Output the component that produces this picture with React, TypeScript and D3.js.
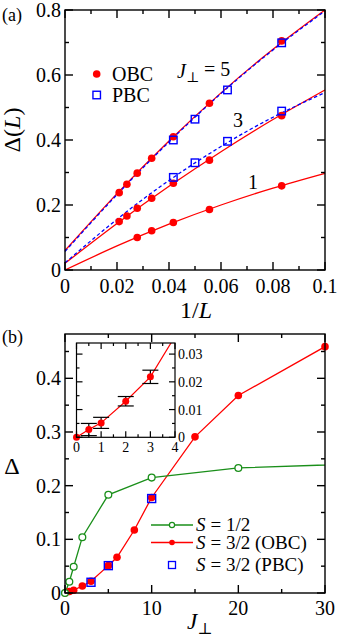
import React from 'react';
import * as d3 from 'd3';

const FONT = '"Liberation Serif", "Times New Roman", Times, "DejaVu Serif", serif';
const RED = '#ff0000';
const BLUE = '#0000ff';
const GREEN = '#1a8f1a';

// ---- panel (a): finite-size gaps vs 1/L
const invL = [1 / 48, 1 / 42, 1 / 36, 1 / 30, 1 / 24, 1 / 18, 1 / 12];
const obcJ5 = [0.238, 0.264, 0.298, 0.344, 0.41, 0.513, 0.705];
const obcJ3 = [0.149, 0.166, 0.19, 0.221, 0.267, 0.338, 0.475];
const invLJ1 = [1 / 36, 1 / 30, 1 / 24, 1 / 18, 1 / 12];
const obcJ1 = [0.1, 0.121, 0.146, 0.186, 0.259];
const invLPbc = [1 / 24, 1 / 20, 1 / 16, 1 / 12];
const pbcJ5 = [0.4, 0.464, 0.554, 0.699];
const pbcJ3 = [0.285, 0.33, 0.396, 0.489];

const fitX = [0, 0.02, 0.04, 0.06, 0.08, 0.1];
const fitObcJ5 = [0.06, 0.235, 0.397, 0.545, 0.679, 0.8];
const fitPbcJ5 = [0.057, 0.232, 0.394, 0.543, 0.677, 0.797];
const fitObcJ3 = [0.0205, 0.143, 0.2575, 0.364, 0.463, 0.554];
const fitPbcJ3 = [0.022, 0.156, 0.2755, 0.38, 0.47, 0.546];
const fitObcJ1 = [0, 0.074, 0.141, 0.2, 0.252, 0.2975];

const aXMajor = [0, 0.02, 0.04, 0.06, 0.08, 0.1];
const aXLabels = ['0', '0.02', '0.04', '0.06', '0.08', '0.1'];
const aXMinor = [0.01, 0.03, 0.05, 0.07, 0.09];
const aYMajor = [0, 0.2, 0.4, 0.6, 0.8];
const aYLabels = ['0', '0.2', '0.4', '0.6', '0.8'];
const aYMinor = [0.1, 0.3, 0.5, 0.7];

// ---- panel (b): gap vs J_perp
const jS12 = [0, 0.5, 1, 2, 5, 10, 20, 40];
const dS12 = [0, 0.021, 0.049, 0.104, 0.183, 0.215, 0.233, 0.244];
const jS32 = [0, 0.5, 1, 2, 3, 5, 6, 8, 10, 15, 20, 30];
const dS32 = [0, 0.0028, 0.0052, 0.013, 0.0218, 0.051, 0.0665, 0.1174, 0.178, 0.291, 0.368, 0.459];
const jPbc = [3, 5, 10];
const dPbc = [0.02, 0.051, 0.176];
const errInset = [0, 0.0022, 0.002, 0.0017, 0.0024];

const bXMajor = [0, 10, 20, 30];
const bXMinor = [5, 15, 25];
const bYMajor = [0, 0.1, 0.2, 0.3, 0.4];
const bYLabels = ['0', '0.1', '0.2', '0.3', '0.4'];
const bYMinor = [0.05, 0.15, 0.25, 0.35, 0.45];

const inXMajor = [0, 1, 2, 3, 4];
const inXMinor = [0.5, 1.5, 2.5, 3.5];
const inYMajor = [0, 0.01, 0.02, 0.03];
const inYLabels = ['0', '0.01', '0.02', '0.03'];
const inYMinor = [0.005, 0.015, 0.025];

const legendB = ['= 1/2', '= 3/2 (OBC)', '= 3/2 (PBC)'];

type Scale = d3.ScaleLinear<number, number>;

function Frame({ x, y, xMajor, xMinor, yMajor, yMinor, maj, min, sw }: {
  x: Scale; y: Scale; xMajor: number[]; xMinor: number[]; yMajor: number[]; yMinor: number[];
  maj: number; min: number; sw: number;
}) {
  const [x0, x1] = x.range();
  const [y0, y1] = y.range(); // y0 bottom, y1 top
  const lines: JSX.Element[] = [];
  const addX = (v: number, len: number, k: string) => {
    const px = x(v);
    lines.push(<line key={'xb' + k} x1={px} x2={px} y1={y0} y2={y0 - len} />);
    lines.push(<line key={'xt' + k} x1={px} x2={px} y1={y1} y2={y1 + len} />);
  };
  const addY = (v: number, len: number, k: string) => {
    const py = y(v);
    lines.push(<line key={'yl' + k} x1={x0} x2={x0 + len} y1={py} y2={py} />);
    lines.push(<line key={'yr' + k} x1={x1} x2={x1 - len} y1={py} y2={py} />);
  };
  xMajor.forEach((v, i) => addX(v, maj, 'M' + i));
  xMinor.forEach((v, i) => addX(v, min, 'm' + i));
  yMajor.forEach((v, i) => addY(v, maj, 'M' + i));
  yMinor.forEach((v, i) => addY(v, min, 'm' + i));
  return (
    <g stroke="#000" strokeWidth={sw} fill="none">
      <rect x={x0} y={y1} width={x1 - x0} height={y0 - y1} />
      {lines}
    </g>
  );
}

const Square = ({ cx, cy, s, sw = 1.4 }: { cx: number; cy: number; s: number; sw?: number }) => (
  <rect x={cx - s / 2} y={cy - s / 2} width={s} height={s} fill="none" stroke={BLUE} strokeWidth={sw} />
);

const Jperp = ({ sub = '0.7em' }: { sub?: string }) => (
  <>
    <tspan fontStyle="italic">J</tspan>
    <tspan fontSize={sub} dy="0.28em">⊥</tspan>
  </>
);

export default function App() {
  // panel (a) scales
  const ax = d3.scaleLinear().domain([0, 0.1]).range([65, 325]);
  const ay = d3.scaleLinear().domain([0, 0.8]).range([270, 10]);
  const fitLine = (vals: number[]) =>
    d3.line<number>().x((_, i) => ax(fitX[i])).y(v => ay(v)).curve(d3.curveNatural)(vals) || '';

  // panel (b) scales
  const bx = d3.scaleLinear().domain([0, 30]).range([65, 325]);
  const by = d3.scaleLinear().domain([0, 0.4826]).range([593, 334]);
  const ix = d3.scaleLinear().domain([0, 4]).range([76.5, 175]);
  const iy = d3.scaleLinear().domain([0, 0.034]).range([437.3, 343]);

  const bLine = (xs: number[], ys: number[], sx: Scale, sy: Scale) =>
    d3.line<number>().x((_, i) => sx(xs[i])).y(v => sy(v))(ys) || '';

  const tick = { fill: '#000' };
  const legY = [525, 542.5, 565];

  return (
    <svg width={338} height={639} style={{ position: 'absolute', left: 0, top: 0, background: '#fff', fontFamily: FONT }}>
      <defs>
        <clipPath id="clipB"><rect x={65} y={334} width={260} height={259} /></clipPath>
        <clipPath id="clipIn"><rect x={76.5} y={343} width={98.5} height={94.3} /></clipPath>
      </defs>

      {/* ================= panel (a) ================= */}
      <text x={2} y={21} fontSize={18} {...tick}>(a)</text>

      {/* fit curves */}
      <path d={fitLine(fitObcJ5)} fill="none" stroke={RED} strokeWidth={1.3} />
      <path d={fitLine(fitPbcJ5)} fill="none" stroke={BLUE} strokeWidth={1.3} strokeDasharray="3.5,2.5" />
      <path d={fitLine(fitObcJ3)} fill="none" stroke={RED} strokeWidth={1.3} />
      <path d={fitLine(fitPbcJ3)} fill="none" stroke={BLUE} strokeWidth={1.3} strokeDasharray="3.5,2.5" />
      <path d={fitLine(fitObcJ1)} fill="none" stroke={RED} strokeWidth={1.3} />

      {/* data */}
      {obcJ5.map((v, i) => <circle key={'a5' + i} cx={ax(invL[i])} cy={ay(v)} r={3.8} fill={RED} />)}
      {obcJ3.map((v, i) => <circle key={'a3' + i} cx={ax(invL[i])} cy={ay(v)} r={3.8} fill={RED} />)}
      {obcJ1.map((v, i) => <circle key={'a1' + i} cx={ax(invLJ1[i])} cy={ay(v)} r={3.8} fill={RED} />)}
      {pbcJ5.map((v, i) => <Square key={'p5' + i} cx={ax(invLPbc[i])} cy={ay(v)} s={7.5} />)}
      {pbcJ3.map((v, i) => <Square key={'p3' + i} cx={ax(invLPbc[i])} cy={ay(v)} s={7.5} />)}

      <Frame x={ax} y={ay} xMajor={aXMajor} xMinor={aXMinor} yMajor={aYMajor} yMinor={aYMinor}
        maj={8} min={4} sw={1.4} />

      {aXMajor.map((v, i) => (
        <text key={'axl' + i} x={ax(v)} y={293} textAnchor="middle" fontSize={20} {...tick}>{aXLabels[i]}</text>
      ))}
      {aYMajor.map((v, i) => (
        <text key={'ayl' + i} x={61} y={ay(v) + 7} textAnchor="end" fontSize={20} {...tick}>{aYLabels[i]}</text>
      ))}

      <text x={196} y={318} textAnchor="middle" fontSize={24} {...tick}>
        1/<tspan fontStyle="italic">L</tspan>
      </text>
      <text transform="translate(20,130) rotate(-90)" textAnchor="middle" fontSize={24} {...tick}>
        Δ(<tspan fontStyle="italic">L</tspan>)
      </text>

      {/* legend (a) */}
      <circle cx={96.7} cy={74} r={3.8} fill={RED} />
      <text x={112} y={81} fontSize={20} {...tick}>OBC</text>
      <Square cx={96.7} cy={95} s={7.5} />
      <text x={112} y={102} fontSize={20} {...tick}>PBC</text>

      <text x={177} y={78} fontSize={20} {...tick}>
        <Jperp />
        <tspan dy="-0.28em">{' = 5'}</tspan>
      </text>
      <text x={238} y={127} fontSize={20} textAnchor="middle" {...tick}>3</text>
      <text x={253} y={189} fontSize={20} textAnchor="middle" {...tick}>1</text>

      {/* ================= panel (b) ================= */}
      <text x={2} y={343} fontSize={18} {...tick}>(b)</text>

      <g clipPath="url(#clipB)">
        <path d={bLine(jS32, dS32, bx, by)} fill="none" stroke={RED} strokeWidth={1.3} />
        <path d={bLine(jS12, dS12, bx, by)} fill="none" stroke={GREEN} strokeWidth={1.3} />
      </g>
      {dS32.map((v, i) => <circle key={'b32' + i} cx={bx(jS32[i])} cy={by(v)} r={3.8} fill={RED} />)}
      {dS12.map((v, i) => jS12[i] <= 30 ? (
        <circle key={'b12' + i} cx={bx(jS12[i])} cy={by(v)} r={3.4} fill="#fff" stroke={GREEN} strokeWidth={1.3} />
      ) : null)}
      {dPbc.map((v, i) => <Square key={'bp' + i} cx={bx(jPbc[i])} cy={by(v)} s={8} />)}

      <Frame x={bx} y={by} xMajor={bXMajor} xMinor={bXMinor} yMajor={bYMajor} yMinor={bYMinor}
        maj={8} min={4} sw={1.4} />

      {bXMajor.map((v, i) => (
        <text key={'bxl' + i} x={bx(v)} y={615} textAnchor="middle" fontSize={20} {...tick}>{v}</text>
      ))}
      {bYMajor.map((v, i) => (
        <text key={'byl' + i} x={61} y={by(v) + 7} textAnchor="end" fontSize={20} {...tick}>{bYLabels[i]}</text>
      ))}

      <text x={187} y={629} fontSize={23} {...tick}><Jperp /></text>
      <text x={12} y={474} textAnchor="middle" fontSize={24} {...tick}>Δ</text>

      {/* inset */}
      <rect x={76.5} y={343} width={98.5} height={94.3} fill="#fff" />
      <g clipPath="url(#clipIn)">
        <path d={bLine(jS32, dS32, ix, iy)} fill="none" stroke={RED} strokeWidth={1.2} />
      </g>
      <g stroke="#000" strokeWidth={1.2}>
        {errInset.map((e, i) => e > 0 ? (
          <g key={'err' + i}>
            <line x1={ix(jS32[i])} x2={ix(jS32[i])} y1={iy(dS32[i] - e)} y2={iy(dS32[i] + e)} />
            <line x1={ix(jS32[i]) - 8} x2={ix(jS32[i]) + 8} y1={iy(dS32[i] - e)} y2={iy(dS32[i] - e)} />
            <line x1={ix(jS32[i]) - 8} x2={ix(jS32[i]) + 8} y1={iy(dS32[i] + e)} y2={iy(dS32[i] + e)} />
          </g>
        ) : null)}
      </g>
      {errInset.map((_, i) => (
        <circle key={'in' + i} cx={ix(jS32[i])} cy={iy(dS32[i])} r={3.5} fill={RED} />
      ))}
      <Frame x={ix} y={iy} xMajor={inXMajor} xMinor={inXMinor} yMajor={inYMajor} yMinor={inYMinor}
        maj={6} min={3} sw={1.2} />
      {inXMajor.map((v, i) => (
        <text key={'ixl' + i} x={ix(v)} y={452} textAnchor="middle" fontSize={14} {...tick}>{v}</text>
      ))}
      {inYMajor.map((v, i) => (
        <text key={'iyl' + i} x={178} y={iy(v) + 5} fontSize={14} {...tick}>{inYLabels[i]}</text>
      ))}

      {/* legend (b) */}
      <line x1={151} x2={193} y1={legY[0]} y2={legY[0]} stroke={GREEN} strokeWidth={1.3} />
      <circle cx={172} cy={legY[0]} r={2.6} fill="#fff" stroke={GREEN} strokeWidth={1.2} />
      <line x1={151} x2={193} y1={legY[1]} y2={legY[1]} stroke={RED} strokeWidth={1.3} />
      <circle cx={172} cy={legY[1]} r={2.8} fill={RED} />
      <Square cx={172} cy={legY[2]} s={7} sw={1.3} />
      {legendB.map((t, i) => (
        <text key={'lb' + i} x={196} y={legY[i] + 6} fontSize={19} {...tick}>
          <tspan fontStyle="italic">S</tspan>
          <tspan dx={5}>{t}</tspan>
        </text>
      ))}
    </svg>
  );
}
